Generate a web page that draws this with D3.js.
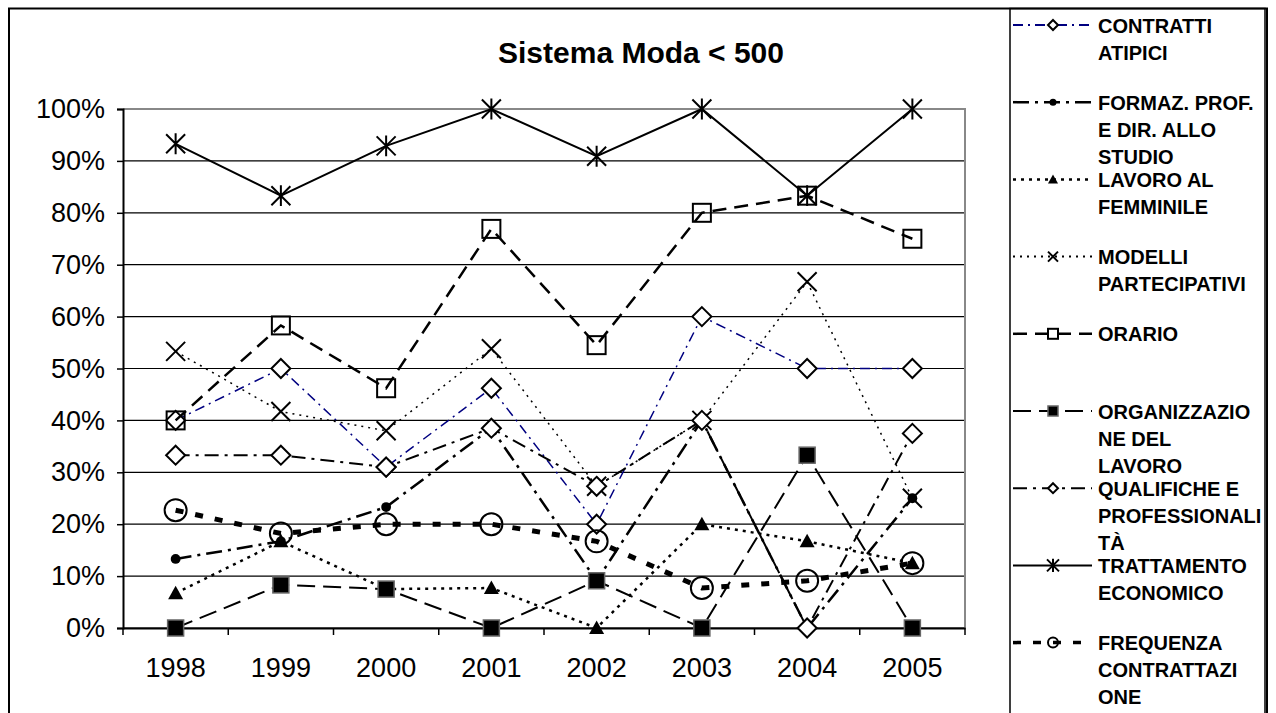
<!DOCTYPE html>
<html>
<head>
<meta charset="utf-8">
<script src="https://cdn.jsdelivr.net/npm/d3@7"></script>
<style>
  body { margin: 0; background: white; }
  svg text { font-family: "Liberation Sans", Arial, sans-serif; }
</style>
</head>
<body>
<svg id="chart" width="1276" height="713"></svg>
<script>
// data
const years = ["1998", "1999", "2000", "2001", "2002", "2003", "2004", "2005"];
const yTicks = [0, 0.1, 0.2, 0.3, 0.4, 0.5, 0.6, 0.7, 0.8, 0.9, 1];

const contratti = [0.40, 0.50, 0.31, 0.462, 0.20, 0.60, 0.50, 0.50];
const formaz = [0.133, 0.167, 0.233, 0.385, 0.091, 0.40, 0, 0.25];
const lavoro = [0.067, 0.167, 0.075, 0.077, 0, 0.20, 0.167, 0.125];
const modelli = [0.533, 0.417, 0.38, 0.538, 0.273, 0.40, 0.667, 0.25];
const orario = [0.40, 0.583, 0.462, 0.769, 0.545, 0.80, 0.833, 0.75];
const organizzazione = [0, 0.083, 0.075, 0, 0.091, 0, 0.333, 0];
const qualifiche = [0.333, 0.333, 0.31, 0.385, 0.273, 0.40, 0, 0.375];
const trattamento = [0.933, 0.833, 0.929, 1, 0.909, 1, 0.833, 1];
const frequenza = [0.227, 0.182, 0.20, 0.20, 0.167, 0.077, 0.091, 0.125];

const seriesNames = [
    ["CONTRATTI", "ATIPICI"],
    ["FORMAZ. PROF.", "E DIR. ALLO", "STUDIO"],
    ["LAVORO AL", "FEMMINILE"],
    ["MODELLI", "PARTECIPATIVI"],
    ["ORARIO"],
    ["ORGANIZZAZIO", "NE DEL", "LAVORO"],
    ["QUALIFICHE E", "PROFESSIONALI", "TÀ"],
    ["TRATTAMENTO", "ECONOMICO"],
    ["FREQUENZA", "CONTRATTAZI", "ONE"]
];
const seriesValues = [contratti, formaz, lavoro, modelli, orario, organizzazione, qualifiche, trattamento, frequenza];

// line + marker styles for each series (same order)
const styles = [
    { color: "#000080", width: 1.5, dash: "10,5,2,5", marker: "diamond" },
    { color: "#000", width: 2.5, dash: "16,6,3,6", marker: "dot" },
    { color: "#000", width: 2.5, dash: "3,5", marker: "triangle" },
    { color: "#000", width: 1.5, dash: "2,5", marker: "x" },
    { color: "#000", width: 2.5, dash: "14,8", marker: "square" },
    { color: "#000", width: 2, dash: "18,8", marker: "fsquare" },
    { color: "#000", width: 2, dash: "14,6,3,6", marker: "diamond" },
    { color: "#000", width: 2, dash: null, marker: "star" },
    { color: "#000", width: 5, dash: "8,12", marker: "circle" }
];

const svg = d3.select("#chart");
const margin = { left: 123, right: 965, top: 109, bottom: 628 };
const fontFam = "'Liberation Sans', Arial, sans-serif";

// outer frame and legend frame
svg.append("rect")
    .attr("x", 9).attr("y", 8.5).attr("width", 1258).attr("height", 712)
    .attr("fill", "none").attr("stroke", "#000").attr("stroke-width", 2);
svg.append("rect")
    .attr("x", 1010).attr("y", 8.5).attr("width", 255).attr("height", 712)
    .attr("fill", "none").attr("stroke", "#000").attr("stroke-width", 1.5);

svg.append("text")
    .text("Sistema Moda < 500")
    .attr("x", 641).attr("y", 63)
    .style("font-size", "30px").style("font-weight", "bold")
    .style("text-anchor", "middle");

const x = d3.scaleBand().domain(years).range([margin.left, margin.right]);
const y = d3.scaleLinear().domain([0, 1]).range([margin.bottom, margin.top]);
const cx = (d) => x(d) + x.bandwidth() / 2;

// grid lines
svg.append("g")
    .selectAll("line")
    .data(yTicks.slice(0, -1))
    .enter()
    .append("line")
    .attr("x1", margin.left).attr("x2", margin.right)
    .attr("y1", (d) => y(d)).attr("y2", (d) => y(d))
    .attr("stroke", "#000").attr("stroke-width", 1.2);

// plot area border (top/right in grey)
svg.append("path")
    .attr("d", "M" + margin.left + "," + y(1) + "H" + margin.right + "V" + margin.bottom)
    .attr("fill", "none").attr("stroke", "#888").attr("stroke-width", 2);

// y axis
const yAxis = svg.append("g")
    .attr("transform", "translate(" + margin.left + ",0)")
    .call(d3.axisLeft(y).tickValues(yTicks).tickFormat(d3.format(".0%")).tickSize(6).tickPadding(12));
yAxis.select(".domain").attr("stroke", "#000").attr("stroke-width", 2);
yAxis.selectAll(".tick line").attr("stroke-width", 1.5);
yAxis.selectAll("text").style("font-size", "27px").attr("fill", "#000")
    .style("font-family", fontFam);

// x axis
const xAxis = svg.append("g")
    .attr("transform", "translate(0," + margin.bottom + ")")
    .call(d3.axisBottom(x).tickSize(0).tickPadding(30));
xAxis.select(".domain").attr("stroke", "#000").attr("stroke-width", 2);
xAxis.selectAll("text").style("font-size", "27px").attr("fill", "#000")
    .style("font-family", fontFam);
svg.append("g")
    .selectAll("line")
    .data(years.concat(["end"]))
    .enter()
    .append("line")
    .attr("x1", (d, i) => margin.left + i * x.step()).attr("x2", (d, i) => margin.left + i * x.step())
    .attr("y1", margin.bottom).attr("y2", margin.bottom + 7)
    .attr("stroke", "#000").attr("stroke-width", 1.5);

function drawMarker(g, type, px, py, s, color) {
    const h = s / 2;
    if (type == "diamond") {
        g.append("path")
            .attr("d", "M" + px + "," + (py - h) + "L" + (px + h) + "," + py + "L" + px + "," + (py + h) + "L" + (px - h) + "," + py + "Z")
            .attr("fill", "white").attr("stroke", "#000").attr("stroke-width", 2);
    } else if (type == "dot") {
        g.append("circle").attr("cx", px).attr("cy", py).attr("r", h * 0.7).attr("fill", "#000");
    } else if (type == "triangle") {
        g.append("path")
            .attr("d", "M" + px + "," + (py - h) + "L" + (px + h) + "," + (py + h * 0.8) + "L" + (px - h) + "," + (py + h * 0.8) + "Z")
            .attr("fill", "#000");
    } else if (type == "x") {
        g.append("path")
            .attr("d", "M" + (px - h) + "," + (py - h) + "L" + (px + h) + "," + (py + h) + "M" + (px + h) + "," + (py - h) + "L" + (px - h) + "," + (py + h))
            .attr("stroke", "#000").attr("stroke-width", 2);
    } else if (type == "square") {
        g.append("rect").attr("x", px - h).attr("y", py - h).attr("width", s).attr("height", s)
            .attr("fill", "none").attr("stroke", "#000").attr("stroke-width", 2);
    } else if (type == "fsquare") {
        g.append("rect").attr("x", px - h).attr("y", py - h).attr("width", s).attr("height", s)
            .attr("fill", "#000").attr("stroke", "#666").attr("stroke-width", 1.5);
    } else if (type == "star") {
        g.append("path")
            .attr("d", "M" + (px - h) + "," + (py - h) + "L" + (px + h) + "," + (py + h) + "M" + (px + h) + "," + (py - h) + "L" + (px - h) + "," + (py + h) +
                "M" + px + "," + (py - h * 1.1) + "L" + px + "," + (py + h * 1.1))
            .attr("stroke", "#000").attr("stroke-width", 2);
    } else if (type == "circle") {
        g.append("circle").attr("cx", px).attr("cy", py).attr("r", h)
            .attr("fill", "none").attr("stroke", "#000").attr("stroke-width", 2);
    }
}

const markerSize = { diamond: 19, dot: 14, triangle: 15, x: 19, square: 18, fsquare: 16, star: 19, circle: 22 };

const line = d3.line().x((d, i) => cx(years[i])).y((d) => y(d));

seriesValues.forEach((vals, k) => {
    const st = styles[k];
    const g = svg.append("g").attr("class", "serie");
    g.append("path")
        .attr("d", line(vals))
        .attr("fill", "none")
        .attr("stroke", st.color)
        .attr("stroke-width", st.width)
        .attr("stroke-dasharray", st.dash);
    vals.forEach((v, i) => drawMarker(g, st.marker, cx(years[i]), y(v), markerSize[st.marker], st.color));
});

// legend
const legend = svg.append("g").attr("class", "legend");
seriesNames.forEach((lines, k) => {
    const st = styles[k];
    const ly = 25 + k * 77.2;
    legend.append("line")
        .attr("x1", 1013).attr("x2", 1092).attr("y1", ly).attr("y2", ly)
        .attr("stroke", st.color).attr("stroke-width", Math.max(2, Math.min(st.width, 3.5)))
        .attr("stroke-dasharray", st.dash);
    drawMarker(legend, st.marker, 1053, ly, st.marker == "star" ? 12 : 10, st.color);
    legend.append("text")
        .selectAll("tspan")
        .data(lines)
        .enter()
        .append("tspan")
        .text((d) => d)
        .attr("x", 1098)
        .attr("y", (d, i) => ly + 7.5 + i * 27)
        .style("font-size", "20px")
        .style("font-weight", "bold");
});
</script>
</body>
</html>
